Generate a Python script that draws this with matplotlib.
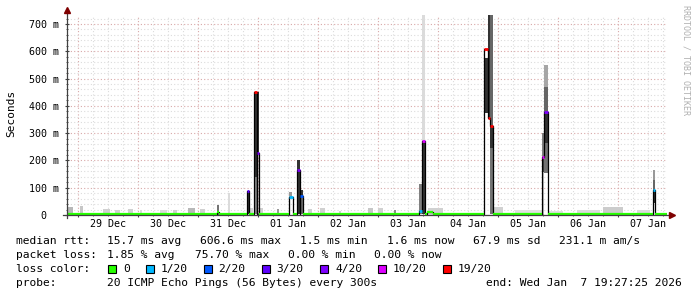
import numpy as np
import pandas as pd
import matplotlib
matplotlib.use('Agg')
import matplotlib.pyplot as plt
import matplotlib.dates as mdates
from matplotlib.patches import Rectangle
from matplotlib.ticker import MultipleLocator, FuncFormatter

W, H = 697, 297
MONO = 'DejaVu Sans Mono'

start = pd.Timestamp('2025-12-28 19:27:25')
end = pd.Timestamp('2026-01-07 19:27:25')

# loss colours (smokeping)
loss_labels = ['0', '1/20', '2/20', '3/20', '4/20', '10/20', '19/20']
loss_colors = ['#26ff00', '#00b8ff', '#0059ff', '#5e00ff', '#7e00ff', '#dd00ff', '#ff0000']

# median rtt outside the bursts (ms)
base_median = 4.0

# median steps: hours after start, duration (h), median (ms), loss index
med_hour = [60.0, 72.1, 74.8, 75.9, 88.8, 92.1, 93.2, 140.9, 142.0, 144.0,
            166.8, 168.3, 169.1, 189.9, 190.9, 234.3]
med_dur = [0.8, 0.8, 1.1, 0.8, 1.4, 1.1, 1.1, 1.1, 1.2, 2.4,
           1.5, 0.8, 1.3, 1.0, 1.6, 1.0]
med_ms = [10, 88, 451, 226, 66, 164, 69, 15, 272, 12,
          608, 354, 325, 212, 376, 90]
med_loss = [0, 3, 6, 4, 1, 4, 2, 1, 5, 0,
            6, 6, 6, 5, 4, 1]

# smoke bands: hours after start, duration (h), low / high (ms), grey level
smoke_hour = [0.4, 5.2, 14.4, 19.2, 24.4, 29.2, 37.2, 42.4, 48.4, 53.2,
              60.0, 64.4, 73.2, 77.2, 84.0, 96.4, 101.2, 108.8, 120.4, 124.4,
              130.8, 144.4, 170.4, 179.2, 192.4, 204.0, 214.4, 228.0,
              72.1, 74.8, 74.8, 75.9, 88.8, 92.1, 93.2, 93.2,
              140.9, 142.0, 142.0, 166.8, 168.3, 169.1, 169.1, 169.1,
              189.9, 189.9, 189.9, 190.9, 190.9, 190.9, 190.9,
              234.3, 234.3, 234.3]
smoke_dur = [2.0, 1.2, 2.8, 2.0, 2.0, 0.8, 2.8, 1.6, 2.8, 2.0,
             0.8, 0.8, 1.2, 1.2, 0.8, 1.6, 2.0, 0.8, 2.0, 2.0,
             0.8, 6.0, 4.0, 10.8, 6.0, 9.2, 8.0, 5.2,
             0.8, 1.1, 1.1, 0.8, 1.4, 1.1, 1.1, 1.1,
             1.1, 1.2, 1.2, 1.5, 0.8, 1.3, 1.3, 1.3,
             1.0, 1.0, 1.0, 1.6, 1.6, 1.6, 1.6,
             1.0, 1.0, 1.0]
smoke_lo = [0, 0, 0, 0, 0, 0, 0, 0, 0, 0,
            0, 0, 0, 0, 0, 0, 0, 0, 0, 0,
            0, 0, 0, 0, 0, 0, 0, 0,
            3, 139, 5, 226, 66, 5, 69, 5,
            5, 272, 5, 372, 354, 325, 245, 5,
            212, 157, 5, 470, 376, 263, 153,
            127, 90, 44]
smoke_hi = [30, 33, 22, 18, 22, 18, 20, 20, 25, 22,
            36, 80, 25, 25, 22, 22, 25, 15, 27, 25,
            18, 25, 30, 18, 15, 20, 30, 18,
            88, 451, 139, 451, 84, 200, 91, 69,
            113, 740, 272, 576, 740, 740, 325, 245,
            299, 212, 157, 551, 470, 376, 263,
            164, 127, 90]
smoke_grey = [0.72, 0.78, 0.82, 0.82, 0.82, 0.86, 0.86, 0.82, 0.72, 0.82,
              0.45, 0.86, 0.82, 0.82, 0.6, 0.82, 0.82, 0.82, 0.78, 0.82,
              0.55, 0.82, 0.82, 0.88, 0.88, 0.86, 0.8, 0.86,
              0.2, 0.2, 0.55, 0.2, 0.6, 0.2, 0.2, 0.45,
              0.5, 0.86, 0.2, 0.2, 0.2, 0.4, 0.2, 0.45,
              0.5, 0.25, 0.75, 0.65, 0.4, 0.2, 0.45,
              0.6, 0.4, 0.2]

# legend texts
rtt_stats = ['15.7 ms avg', '606.6 ms max', '1.5 ms min', '1.6 ms now',
             '67.9 ms sd', '231.1 m am/s']
loss_stats = ['1.85 % avg', '75.70 % max', '0.00 % min', '0.00 % now']
probe_text = '20 ICMP Echo Pings (56 Bytes) every 300s'
end_text = 'end: Wed Jan  7 19:27:25 2026'

fig = plt.figure(figsize=(W / 100, H / 100), dpi=100)
fig.patch.set_facecolor('white')
ax = fig.add_axes([67 / W, 1 - 215 / H, 600 / W, 200 / H])

t0 = mdates.date2num(start)
t1 = mdates.date2num(end)
ax.set_xlim(t0, t1)
ax.set_ylim(0, 733)

grid_c = '#dcdcdc'
mgrid_c = '#d8a8a8'
axis_c = '#404040'

# grid
ax.xaxis.set_major_locator(mdates.DayLocator())
ax.xaxis.set_minor_locator(mdates.HourLocator(byhour=[0, 6, 12, 18]))
ax.yaxis.set_major_locator(MultipleLocator(100))
ax.yaxis.set_minor_locator(MultipleLocator(20))
ax.grid(True, which='minor', color=grid_c, ls=(0, (1, 2)), lw=0.8, zorder=0)
ax.grid(True, which='major', color=mgrid_c, ls=(0, (1, 2)), lw=0.8, zorder=0)
ax.set_axisbelow(True)

# smoke
for h, d, lo, hi, g in zip(smoke_hour, smoke_dur, smoke_lo, smoke_hi, smoke_grey):
    ax.bar(t0 + h / 24, hi - lo, width=d / 24, bottom=lo, align='edge',
           color=str(g), linewidth=0, zorder=2)

# median step line
order = np.argsort(med_hour)
segs = []
cur = 0.0
for i in order:
    h, d = med_hour[i], med_dur[i]
    if h > cur:
        segs.append((cur, h, base_median, 0))
    segs.append((h, h + d, med_ms[i], med_loss[i]))
    cur = h + d
if cur < 240:
    segs.append((cur, 240, base_median, 0))

xs, ys = [], []
for a, b, v, l in segs:
    xs += [t0 + a / 24, t0 + b / 24]
    ys += [v, v]
ax.plot(xs, ys, color='black', lw=0.9, zorder=4)
for a, b, v, l in segs:
    ax.hlines(v, t0 + a / 24, t0 + b / 24, color=loss_colors[l],
              lw=2.0 if l else 1.6, zorder=5)

# axes
for s in ['top', 'right', 'left', 'bottom']:
    ax.spines[s].set_visible(False)
ax.plot([-0.006, 1.008], [0, 0], transform=ax.transAxes, color=axis_c,
        lw=0.9, clip_on=False, zorder=6)
ax.plot([0, 0], [-0.015, 1.015], transform=ax.transAxes, color=axis_c,
        lw=0.9, clip_on=False, zorder=6)
ax.plot([1.008], [0], transform=ax.transAxes, marker='>', ms=4.5,
        color='#7f0000', clip_on=False, zorder=7)
ax.plot([0], [1.025], transform=ax.transAxes, marker='^', ms=4.5,
        color='#7f0000', clip_on=False, zorder=7)

ax.tick_params(axis='both', which='major', length=3, direction='inout',
               color=axis_c, width=0.8)
ax.tick_params(axis='both', which='minor', length=2, direction='inout',
               color=axis_c, width=0.6)
ax.tick_params(axis='x', which='both', labelbottom=False)
ax.tick_params(axis='y', which='major', pad=4, labelsize=7.2)
ax.yaxis.set_major_formatter(FuncFormatter(
    lambda v, p: '0  ' if v == 0 else f'{v:.0f} m'))
for lab in ax.get_yticklabels():
    lab.set_family(MONO)

# day labels at noon
for d in pd.date_range(start.normalize(), end.normalize(), freq='D'):
    noon = mdates.date2num(d + pd.Timedelta(hours=12))
    if t0 < noon < t1:
        ax.text(noon, -0.045, d.strftime('%d %b'),
                transform=ax.get_xaxis_transform(), ha='center', va='center',
                fontsize=7.2, family=MONO)

fig.text(11 / W, 1 - 113 / H, 'Seconds', rotation=90, ha='center',
         va='center', fontsize=8, family=MONO)
fig.text(686 / W, 1 - 5 / H, 'RRDTOOL / TOBI OETIKER', rotation=270,
         ha='center', va='top', fontsize=6, family=MONO, color='#b0b0b0')


def ftxt(x, y, s, **kw):
    fig.text(x / W, 1 - y / H, s, va='center', ha=kw.pop('ha', 'left'),
             fontsize=8.1, family=MONO, **kw)


ftxt(16, 241, 'median rtt:')
for x, s in zip([107, 200, 300, 387, 473, 559], rtt_stats):
    ftxt(x, 241, s)
ftxt(16, 255, 'packet loss:')
for x, s in zip([107, 195, 288, 374], loss_stats):
    ftxt(x, 255, s)
ftxt(16, 269, 'loss color:')
for x, s, c in zip([108, 146, 203.5, 261.5, 320, 378, 443], loss_labels, loss_colors):
    fig.patches.append(Rectangle((x / W, 1 - 273 / H), 8 / W, 8.5 / H,
                                 transform=fig.transFigure, facecolor=c,
                                 edgecolor='black', lw=0.8))
    ftxt(x + 15, 269, s)
ftxt(16, 283, 'probe:')
ftxt(107, 283, probe_text)
ftxt(682, 283, end_text, ha='right')

fig.savefig('out.png', dpi=100)
